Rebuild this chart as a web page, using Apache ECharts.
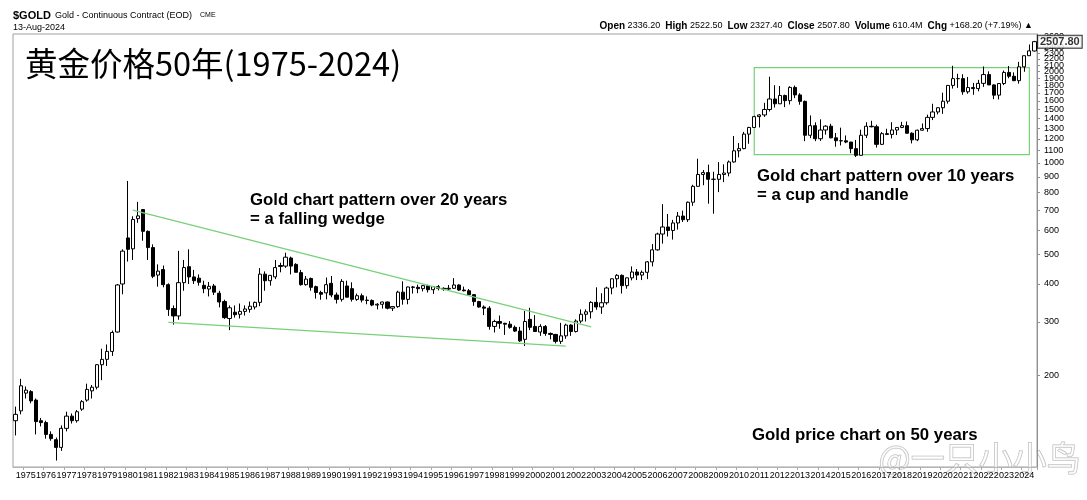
<!DOCTYPE html>
<html>
<head>
<meta charset="utf-8">
<script src="https://cdn.jsdelivr.net/npm/echarts@6/dist/echarts.min.js"></script>
<style>
html,body{margin:0;padding:0;background:#fff;}
#chart{width:1087px;height:500px;}
</style>
</head>
<body>
<div id="chart"></div>
<script>
// Quarterly candles, 1974 Q3 .. 2024 Q3 : [open, high, low, close]
const START_YEAR = 1974, START_Q = 3, QUARTER_COUNT = 201;
const Q_1974_1979 = [
[142,158,127,149],[153,195,149,185],
[175,184,168,179],[177,179,162,165],[166,168,128,141],[142,145,136,140],
[140,142,124,128],[128,131,122,124],[123,125,105,116],[116,137,113,134],
[134,152,131,147],[147,150,139,142],[142,154,140,152],[155,166,153,164],
[166,188,164,180],[178,186,168,183],[183,218,180,217],[217,245,193,226],
[226,253,215,240],[240,281,232,277],[278,400,277,397],[400,520,370,513]
];
const Q_1980_1989 = [
[567,873,474,520],[522,668,480,652],[656,745,636,670],[703,706,555,596],
[596,600,480,527],[527,540,418,424],[428,464,392,441],[446,460,390,398],
[398,402,314,330],[332,340,294,314],[314,514,305,404],[404,480,380,453],
[456,520,400,422],[422,445,400,410],[418,430,395,405],[396,410,373,386],
[385,406,364,393],[394,400,368,376],[373,380,335,349],[350,355,307,310],
[308,340,282,334],[323,340,310,317],[318,345,308,325],[325,340,315,331],
[330,350,322,338],[336,350,330,348],[348,451,338,431],[431,440,380,410],
[410,428,395,427],[422,480,415,453],[460,470,437,457],[458,507,452,490],
[487,492,430,458],[464,468,437,437],[436,445,395,398],[398,425,395,415],
[417,420,380,390],[392,395,358,375],[375,380,355,370],[374,420,356,398]
];
const Q_1990_1999 = [
[402,425,362,368],[368,375,345,356],[356,415,350,408],[394,410,362,362],
[386,405,350,356],[356,372,352,366],[366,372,348,354],[354,364,343,353],
[353,356,338,341],[341,346,330,343],[343,350,332,349],[349,350,330,333],
[333,338,326,337],[337,380,334,376],[376,408,342,356],[356,392,343,391],
[391,394,372,390],[390,398,373,386],[386,397,378,395],[395,398,375,383],
[383,394,371,392],[392,397,381,387],[387,390,380,385],[385,397,380,387],
[387,418,385,397],[397,399,380,382],[382,392,378,380],[380,385,366,369],
[369,370,339,350],[350,352,334,336],[336,340,316,333],[333,338,283,290],
[290,305,277,301],[301,315,285,297],[297,298,272,295],[295,302,285,288],
[288,292,278,280],[280,289,258,260],[263,326,250,301],[306,334,282,288]
];
const Q_2000_2009 = [
[290,316,278,279],[278,295,270,290],[290,293,270,275],[275,277,263,273],
[273,274,255,259],[259,298,254,270],[270,296,264,293],[293,295,270,279],
[279,306,277,302],[302,330,297,318],[318,330,301,324],[324,351,308,348],
[348,390,329,336],[336,373,319,347],[347,392,342,388],[388,417,370,416],
[416,431,390,427],[427,430,372,395],[395,420,386,419],[419,457,411,438],
[438,448,412,428],[428,443,412,437],[437,476,415,473],[473,541,457,518],
[518,590,515,584],[584,732,543,616],[616,680,573,600],[600,650,560,635],
[635,690,604,669],[669,697,640,651],[651,747,640,743],[743,848,723,838],
[838,1033,836,917],[917,948,845,930],[930,988,735,884],[884,936,681,884],
[884,1007,802,917],[917,990,865,927],[927,1019,904,1008],[1008,1227,1003,1097]
];
const Q_2010_2019 = [
[1097,1163,1044,1115],[1115,1266,1110,1245],[1245,1315,1157,1309],[1309,1431,1308,1421],
[1421,1448,1309,1439],[1439,1577,1418,1500],[1500,1923,1478,1624],[1624,1803,1523,1566],
[1566,1792,1563,1668],[1668,1678,1527,1604],[1604,1788,1558,1773],[1773,1798,1635,1675],
[1675,1697,1555,1595],[1595,1605,1180,1234],[1234,1434,1207,1327],[1327,1361,1180,1202],
[1202,1392,1182,1284],[1284,1332,1240,1322],[1322,1346,1206,1210],[1210,1255,1131,1184],
[1184,1307,1142,1183],[1183,1232,1162,1172],[1172,1172,1077,1115],[1115,1191,1046,1060],
[1060,1287,1058,1234],[1234,1362,1208,1321],[1321,1377,1310,1316],[1316,1337,1124,1152],
[1152,1264,1146,1249],[1249,1296,1236,1242],[1242,1362,1205,1284],[1284,1306,1236,1309],
[1309,1366,1302,1327],[1327,1369,1251,1253],[1253,1262,1160,1192],[1192,1288,1180,1282],
[1282,1349,1277,1298],[1298,1442,1267,1413],[1413,1566,1384,1472],[1472,1525,1445,1520]
];
const Q_2020_2024 = [
[1520,1704,1451,1597],[1597,1800,1568,1800],[1800,2089,1757,1895],[1895,1966,1767,1895],
[1895,1959,1677,1715],[1715,1919,1690,1771],[1771,1834,1677,1757],[1757,1877,1721,1828],
[1828,2078,1780,1954],[1954,2002,1805,1807],[1807,1814,1622,1672],[1672,1833,1618,1826],
[1826,2015,1804,1986],[1986,2085,1900,1929],[1929,1987,1859,1866],[1866,2152,1823,2072],
[2072,2256,1996,2254],[2254,2454,2250,2339],[2336.2,2522.5,2327.4,2507.8]
];
const PRICE_TICKS = [200,300,400,500,600,700,800,900,1000,1100,1200,1300,1400,1500,1600,1700,1800,1900,2000,2100,2200,2300,2400,2600];
const LAST_CLOSE = 2507.80;
const WEDGE_UPPER = [['1980 Q2', 700], ['2002 Q4', 289]];
const WEDGE_LOWER = [['1982 Q1', 299], ['2001 Q3', 250]];
const CUP_BOX = [['2010 Q4', 2060], ['2024 Q2', 1065]];
const Y_MIN = 100, Y_MAX = 2657;

const ALL = [].concat(Q_1974_1979, Q_1980_1989, Q_1990_1999, Q_2000_2009, Q_2010_2019, Q_2020_2024);
const CATEGORIES = [];
for (let k = 0; k < QUARTER_COUNT; k++) {
  const t = (START_Q - 1) + k;
  CATEGORIES.push((START_YEAR + Math.floor(t / 4)) + ' Q' + (t % 4 + 1));
}
const L = Math.log10;
const candleData = ALL.map(r => [L(r[0]), L(r[3]), L(r[2]), L(r[1])]);
const GREEN = '#78d078';
const FONT = 'Arial, "Liberation Sans", sans-serif';

const chart = echarts.init(document.getElementById('chart'), null, {renderer: 'canvas'});
chart.setOption({
  animation: false,
  backgroundColor: '#fff',
  grid: {left: 13, right: 50, top: 34, bottom: 33, show: true, borderColor: '#a0a0a0', borderWidth: 1},
  xAxis: {
    type: 'category', data: CATEGORIES, boundaryGap: true,
    axisLine: {show: true, lineStyle: {color: '#b0b0b0', type: 'dotted'}},
    axisTick: {show: true, length: 3, interval: (i, v) => v.endsWith('Q1'), lineStyle: {color: '#aaa'}},
    axisLabel: {
      interval: (i, v) => v.endsWith('Q1'),
      formatter: v => v.slice(0, 4),
      color: '#000', fontSize: 9, fontFamily: FONT, margin: 4
    },
    splitLine: {show: false}
  },
  yAxis: {
    type: 'value', position: 'right', min: L(Y_MIN), max: L(Y_MAX), scale: true,
    axisLine: {show: true, lineStyle: {color: '#909090'}},
    axisTick: {show: true, length: 3, customValues: PRICE_TICKS.map(L), lineStyle: {color: '#909090'}},
    axisLabel: {
      customValues: PRICE_TICKS.map(L),
      formatter: v => String(Math.round(Math.pow(10, v))),
      color: '#000', fontSize: 9, fontFamily: FONT, margin: 7
    },
    splitLine: {show: false}
  },
  graphic: [
    {type: 'text', left: 13, top: 10, style: {text: '$GOLD', font: 'bold 11px ' + FONT, fill: '#000'}},
    {type: 'text', left: 55, top: 11, style: {text: 'Gold - Continuous Contract (EOD)', font: '9px ' + FONT, fill: '#000'}},
    {type: 'text', left: 200, top: 12, style: {text: 'CME', font: '7px ' + FONT, fill: '#000'}},
    {type: 'text', left: 13, top: 23, style: {text: '13-Aug-2024', font: '9px ' + FONT, fill: '#000'}},
    {type: 'text', right: 54, top: 21, style: {
      text: '{b|Open} 2336.20  {b|High} 2522.50  {b|Low} 2327.40  {b|Close} 2507.80  {b|Volume} 610.4M  {b|Chg} +168.20 (+7.19%) \u25B2',
      font: '9px ' + FONT, fill: '#000',
      rich: {b: {fontWeight: 'bold', fontSize: 10, fontFamily: FONT, fill: '#000'}}
    }},
    {type: 'text', left: 25, top: 47, style: {text: '黄金价格50年(1975-2024)', font: '32.5px "Noto Sans CJK SC"', fill: '#000'}},
    {type: 'text', left: 250, top: 191, style: {text: 'Gold chart pattern over 20 years\n= a falling wedge', font: 'bold 16.8px ' + FONT, fill: '#000', lineHeight: 19}},
    {type: 'text', left: 757, top: 167, style: {text: 'Gold chart pattern over 10 years\n= a cup and handle', font: 'bold 16.8px ' + FONT, fill: '#000', lineHeight: 19}},
    {type: 'text', left: 752, top: 427, style: {text: 'Gold price chart on 50 years', font: 'bold 16.8px ' + FONT, fill: '#000'}},
    {type: 'text', left: 878, top: 441, style: {text: '@一只小小鸟', font: '34px "Noto Sans CJK SC"', fill: 'rgba(255,255,255,0.6)', stroke: '#b8b8b8', lineWidth: 1}}
  ],
  series: [
    {
      type: 'candlestick',
      data: candleData,
      barWidth: '72%',
      itemStyle: {color: '#fff', color0: '#000', borderColor: '#000', borderColor0: '#000', borderWidth: 1},
      markLine: {
        silent: true, symbol: 'none', animation: false,
        lineStyle: {color: GREEN, width: 1.2, type: 'solid'},
        label: {show: false},
        data: [
          [{coord: [WEDGE_UPPER[0][0], L(WEDGE_UPPER[0][1])]}, {coord: [WEDGE_UPPER[1][0], L(WEDGE_UPPER[1][1])]}],
          [{coord: [WEDGE_LOWER[0][0], L(WEDGE_LOWER[0][1])]}, {coord: [WEDGE_LOWER[1][0], L(WEDGE_LOWER[1][1])]}]
        ]
      },
      markArea: {
        silent: true,
        itemStyle: {color: 'rgba(0,0,0,0)', borderColor: GREEN, borderWidth: 1.2},
        data: [[{coord: [CUP_BOX[0][0], L(CUP_BOX[0][1])]}, {coord: [CUP_BOX[1][0], L(CUP_BOX[1][1])]}]]
      }
    },
    {
      type: 'scatter',
      data: [[CATEGORIES[CATEGORIES.length - 1], L(LAST_CLOSE)]],
      symbolSize: 1,
      itemStyle: {color: 'rgba(0,0,0,0)'},
      silent: true,
      label: {
        show: true, position: 'right', distance: 3,
        formatter: () => LAST_CLOSE.toFixed(2),
        fontWeight: 'bold', fontSize: 11, fontFamily: FONT, color: '#000',
        backgroundColor: '#fff', borderColor: '#000', borderWidth: 1, padding: [1, 2, 0, 2]
      }
    }
  ]
});
</script>
</body>
</html>
